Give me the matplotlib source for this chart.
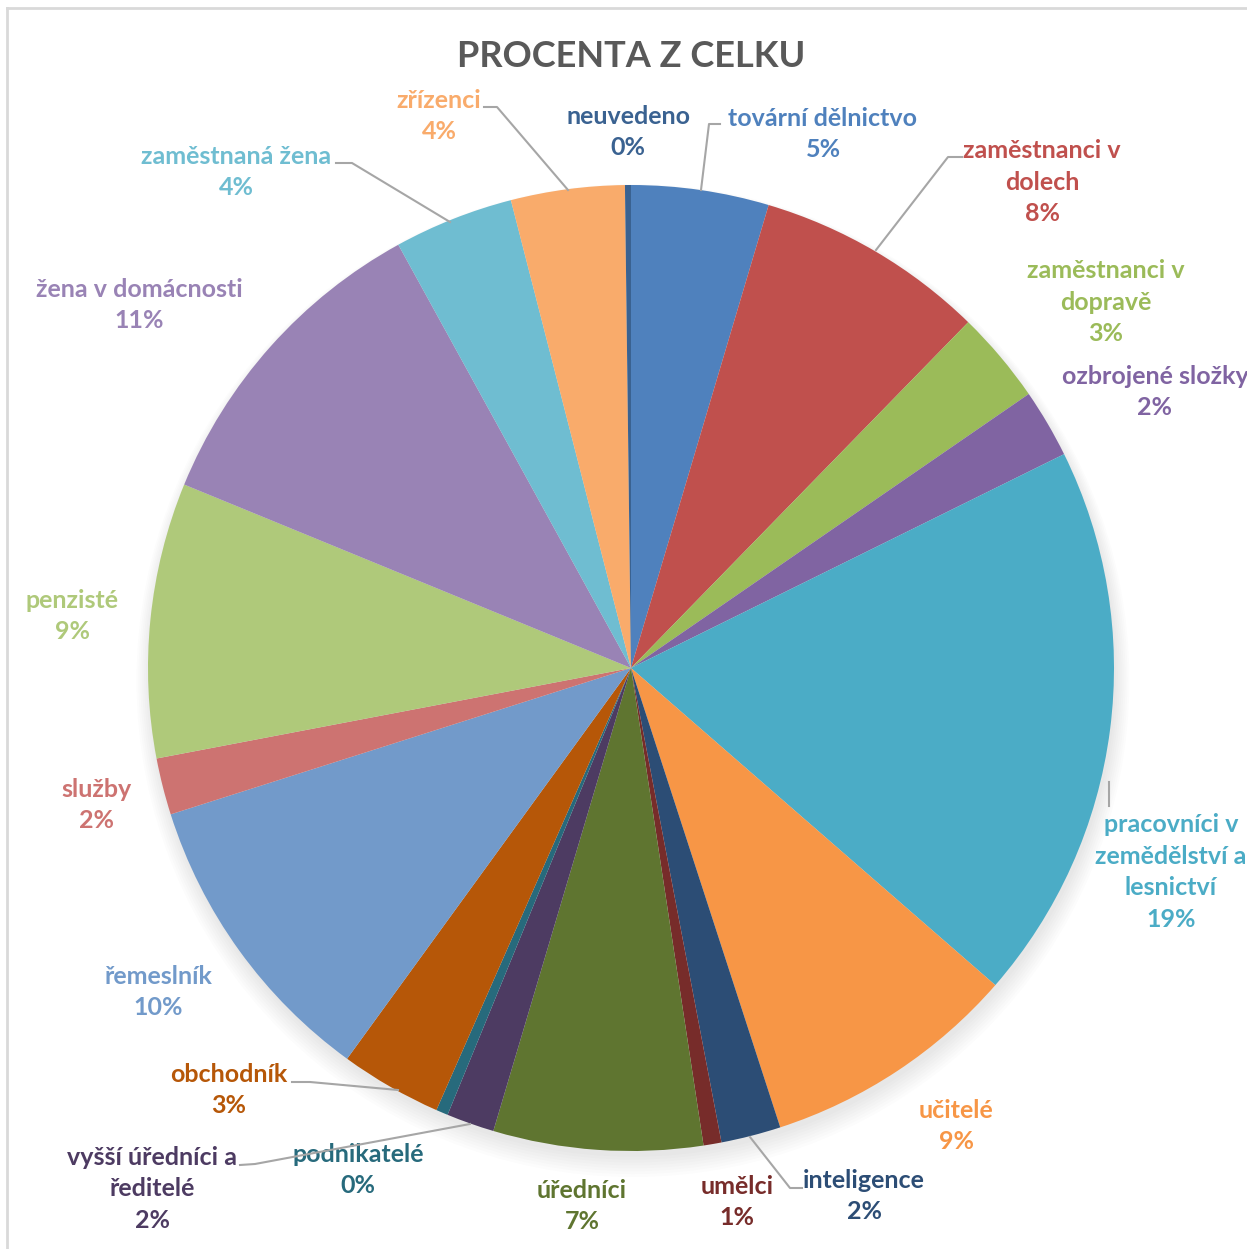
import matplotlib.pyplot as plt
from matplotlib.lines import Line2D

# --- Data ---
categories = ["tovární dělnictvo", "zaměstnanci v\ndolech", "zaměstnanci v\ndopravě",
              "ozbrojené složky", "pracovníci v\nzemědělství a\nlesnictví", "učitelé",
              "inteligence", "umělci", "úředníci", "vyšší úředníci a\nředitelé",
              "podnikatelé", "obchodník", "řemeslník", "služby", "penzisté",
              "žena v domácnosti", "zaměstnaná žena", "zřízenci", "neuvedeno"]
values = [4.6, 7.7, 3.1, 2.3, 18.7, 8.6, 2.0, 0.6, 7.0, 1.6,
          0.4, 3.4, 10.1, 1.9, 9.2, 10.8, 4.0, 3.8, 0.2]

# Excel palette
colors = ["#4F81BD", "#C0504D", "#9BBB59", "#8064A2", "#4BACC6", "#F79646",
          "#2C4D75", "#772C2A", "#5F7530", "#4D3B62", "#276A7C", "#B65708",
          "#729ACA", "#CD7371", "#AFC97A", "#9983B5", "#6FBDD1", "#F9AB6B",
          "#3A6291"]

W, H = 1247, 1249
CX, CY, R = 631, 668, 483

def px(x, y):
    # pixel position -> data coords (pie radius = 1)
    return (x - CX) / R, (CY - y) / R

# label centres in pixels
label_pos = [(823, 134), (1042, 182), (1106, 302), (1155, 392), (1171, 872),
             (956, 1126), (864, 1196), (737, 1202), (582, 1206), (152, 1189),
             (358, 1170), (229, 1090), (158, 992), (97, 805), (72, 616),
             (139, 305), (236, 172), (439, 116), (628, 132)]

# leader lines (pixel polylines)
leaders = [
    [(720, 124), (709, 124), (701, 190)],
    [(962, 157), (948, 157), (876, 250)],
    [(1109, 782), (1109, 806)],
    [(802, 1188), (790, 1188), (750, 1137)],
    [(240, 1165), (255, 1164), (470, 1124)],
    [(292, 1082), (310, 1082), (398, 1090)],
    [(336, 163), (352, 163), (450, 222)],
    [(484, 107), (497, 107), (568, 190)],
]

plt.rcParams['font.family'] = ['Lato', 'DejaVu Sans']

fig = plt.figure(figsize=(W / 100, H / 100), dpi=100)
ax = fig.add_axes([0, 0, 1, 1])

# soft shadow under the pie
for i in range(8):
    circ = plt.Circle((0.004, -0.012 - i * 0.002), 1.0 + i * 0.004, color='black',
                      alpha=0.012, zorder=0, lw=0)
    ax.add_patch(circ)

ax.pie(values, colors=colors, startangle=90, counterclock=False, radius=1.0,
       wedgeprops=dict(linewidth=0), center=(0, 0), frame=True)
ax.set_xlim(-CX / R, (W - CX) / R)
ax.set_ylim(-(H - CY) / R, CY / R)
ax.set_aspect('equal')
ax.axis('off')

total = sum(values)
for name, v, c, (lx, ly) in zip(categories, values, colors, label_pos):
    x, y = px(lx, ly)
    ax.text(x, y, "%s\n%d%%" % (name, round(v / total * 100)), color=c,
            fontsize=18, fontweight='bold', ha='center', va='center',
            linespacing=1.45)

for pts in leaders:
    xs, ys = zip(*[px(a, b) for a, b in pts])
    ax.plot(xs, ys, color="#A6A6A6", lw=1.5, zorder=3)

ax.text(*px(631, 56), "PROCENTA Z CELKU", color="#595959", fontsize=26,
        fontweight='bold', ha='center', va='center')

# chart frame (top and left edges visible)
fig.add_artist(Line2D([7 / W, 7 / W], [0, 1 - 8 / H], color="#D9D9D9", lw=2,
                      transform=fig.transFigure))
fig.add_artist(Line2D([7 / W, 1], [1 - 8 / H, 1 - 8 / H], color="#D9D9D9", lw=2,
                      transform=fig.transFigure))

fig.savefig("out.png", dpi=100, facecolor="white")
